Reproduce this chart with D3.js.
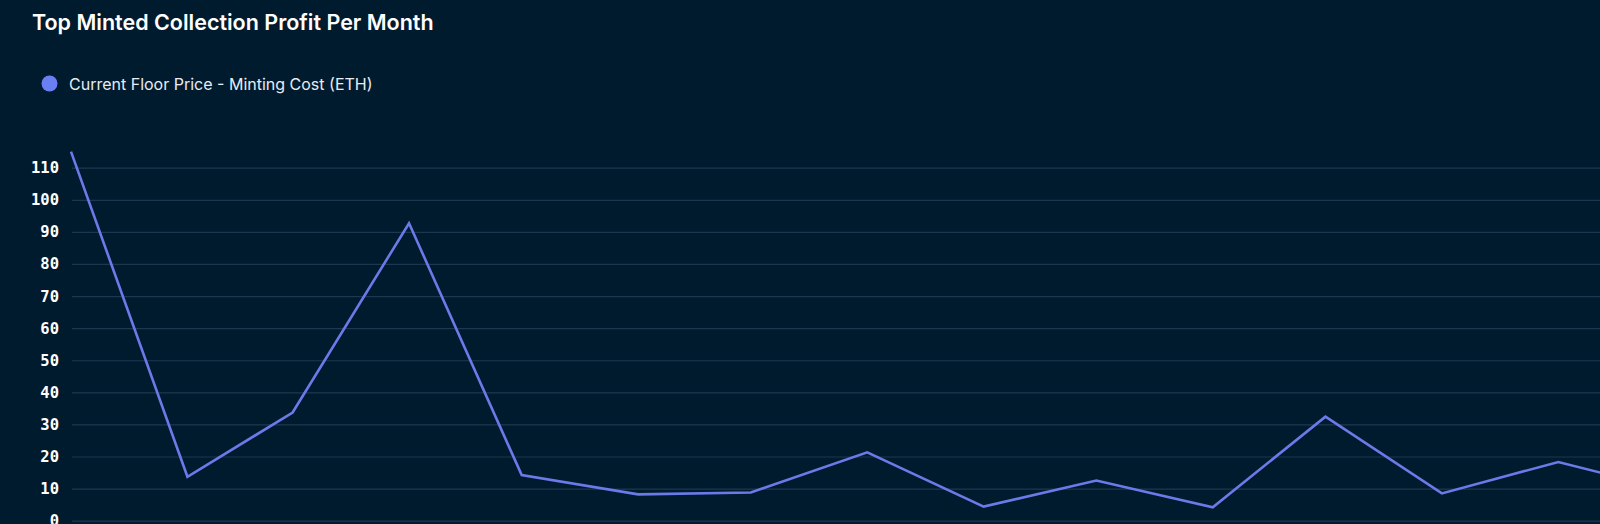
<!DOCTYPE html>
<html><head><meta charset="utf-8">
<script src="https://cdn.jsdelivr.net/npm/d3@7"></script>
<style>
html,body{margin:0;padding:0;background:#001a2e;overflow:hidden;}
svg{display:block;}
</style></head>
<body><svg id="c" width="1600" height="524"></svg>
<script>
const months = ["2022-01","2022-02","2022-03","2022-04","2022-05","2022-06","2022-07","2022-08","2022-09","2022-10","2022-11","2022-12","2023-01","2023-02","2023-03"];
const profit = [115.0,13.7,33.7,92.7,14.2,8.2,8.8,21.3,4.4,12.5,4.2,32.4,8.5,18.3,10.0];
const yTicks = [0,10,20,30,40,50,60,70,80,90,100,110];
const title = "Top Minted Collection Profit Per Month";
const seriesName = "Current Floor Price - Minting Cost (ETH)";

const parse = d3.utcParse("%Y-%m");
const data = months.map((m,i)=>({date:parse(m), v:profit[i]}));

const W = 1600, H = 524;
const svg = d3.select("#c");
svg.append("rect").attr("width",W).attr("height",H).attr("fill","#001a2e");

const x = d3.scaleUtc().domain(d3.extent(data,d=>d.date)).range([71, 1663.5]);
const y = d3.scaleLinear().domain([0,110]).range([520.7, 167.7]);

// grid
const grid = svg.append("g").attr("transform","translate(72,0)")
  .call(d3.axisLeft(y).tickValues(yTicks).tickSize(-(W-72)).tickFormat(""));
grid.select(".domain").remove();
grid.selectAll(".tick line").attr("stroke","#1c3850").attr("stroke-width",1.2);

// y labels
const ax = svg.append("g").attr("transform","translate(59,0)")
  .call(d3.axisLeft(y).tickValues(yTicks).tickSize(0).tickPadding(0));
ax.select(".domain").remove();
ax.selectAll("text").attr("fill","#ffffff").attr("font-family","'DejaVu Sans Mono', monospace")
  .attr("font-weight","bold").attr("font-size","15.5px");

// line
svg.append("path").datum(data)
  .attr("fill","none").attr("stroke","#6a7ae8").attr("stroke-width",2.6)
  .attr("stroke-linejoin","miter")
  .attr("d", d3.line().x(d=>x(d.date)).y(d=>y(d.v)));

// title
svg.append("text").attr("x",32).attr("y",30).text(title)
  .attr("fill","#ffffff").attr("font-family","Inter, sans-serif").attr("font-weight",600).attr("font-size","21.5px");

// legend
svg.append("circle").attr("cx",49.5).attr("cy",83.5).attr("r",8).attr("fill","#6b7ff5");
svg.append("text").attr("x",69).attr("y",89.5).text(seriesName)
  .attr("fill","#e8ecf2").attr("font-family","Inter, sans-serif").attr("font-size","16px");
</script></body></html>
